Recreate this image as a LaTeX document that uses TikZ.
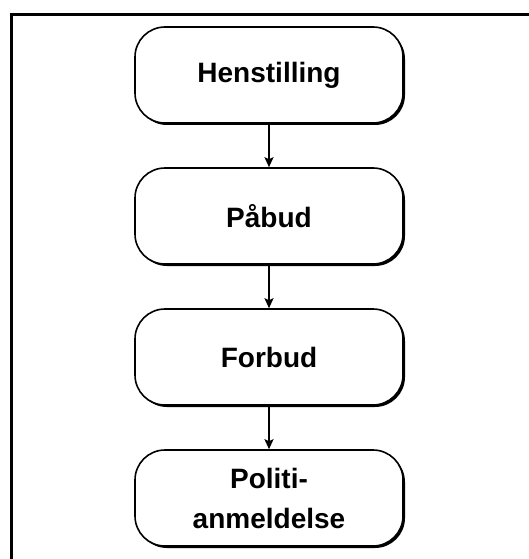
\documentclass[tikz,border=0pt]{standalone}
\usepackage{fontspec}
\setmainfont{Liberation Sans}
\usetikzlibrary{arrows.meta,shapes,shadows}

\begin{document}
\begin{tikzpicture}[->,>={Stealth[length=10pt,width=9pt,inset=2pt]},line width=1.8pt,
                    x=1pt,y=1pt,node distance=141pt,
                    trin/.style={rectangle,rounded corners=30pt,draw,line width=1.6pt,
                      fill=white,minimum width=268pt,minimum height=96pt,align=center,
                      font=\fontsize{28}{40}\selectfont\bfseries,
                      drop shadow={shadow xshift=2pt,shadow yshift=-2pt,opacity=1,fill=black}}]

  \useasboundingbox (0,0) rectangle (529,-559);
  \draw[-,line width=3pt] (11,-559) -- (11,-15) -- (529,-15);

  \node[trin] (H) at (269,-75) {Henstilling};
  \node[trin] (P) [below of=H] {Påbud};
  \node[trin] (F) [below of=P] {Forbud};
  \node[trin] (A) [below of=F] {Politi-\\anmeldelse};

  \path (H) edge (P);
  \path (P) edge (F);
  \path (F) edge (A);
\end{tikzpicture}
\end{document}
